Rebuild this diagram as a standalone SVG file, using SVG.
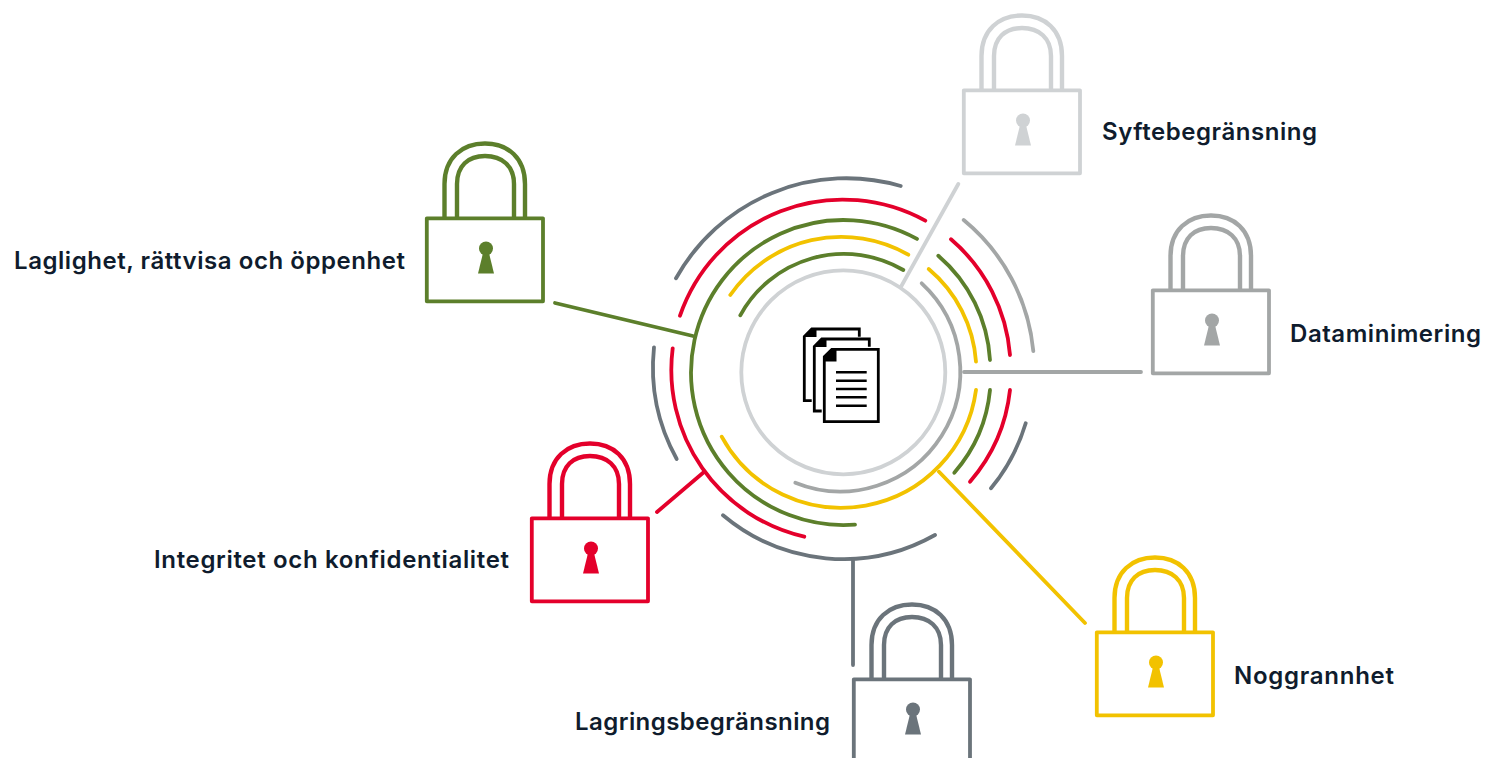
<svg xmlns="http://www.w3.org/2000/svg" width="1487" height="758" viewBox="0 0 1487 758">
<style>
.a{fill:none;stroke-width:3.8;stroke-linecap:round}
.c{fill:none;stroke-width:3.8;stroke-linecap:round}
.g{stroke:#5c7f2b;color:#5c7f2b}
.r{stroke:#e4002b;color:#e4002b}
.y{stroke:#f2c200;color:#f2c200}
.d{stroke:#6b747b;color:#6b747b}
.m{stroke:#a3a6a6;color:#a3a6a6}
.l{stroke:#cfd2d4;color:#cfd2d4}
.t{font-family:"Inter","Liberation Sans",sans-serif;font-weight:600;font-size:24px;fill:#0f1c2d;stroke:none}
.b{fill:none;stroke:currentColor;stroke-width:3.800;stroke-linejoin:round}
.s{fill:none;stroke:currentColor;stroke-width:4.400}
.k{fill:currentColor;stroke:none}
.p{fill:#fff;stroke:#000;stroke-width:2.8}
.f{fill:#000;stroke:none}
.n{stroke:#000;stroke-width:2.6;fill:none}
</style>
<defs>
<g id="lock">
<path class="s" d="M18.500 0V-34C18.500-60 36-74.500 59-74.500S99-60 99-34V0M31 0V-34C31-52 42-62 59-62S88-52 88-34V0"/>
<rect class="b" x="0.800" y="0.300" width="116.200" height="83"/>
<circle class="k" cx="60" cy="30.500" r="7"/>
<path class="k" d="M57.500 33H62.500L68 55.500H52Z"/>
</g>
</defs>
<g id="rings">
<circle class="a l" cx="843.300" cy="372.300" r="102"/>
<path class="a d" d="M676 278.300A195 195 0 0 1 900.700 186"/>
<path class="a r" d="M680 315.700A172 172 0 0 1 925.300 220.700"/>
<path class="a g" d="M917 238.900A152.500 152.500 0 1 0 855 524.600"/>
<path class="a y" d="M730.300 295A135 135 0 0 1 908.300 254.700"/>
<path class="a g" d="M740.300 315.300A118 118 0 0 1 903.300 270"/>
<path class="a m" d="M921.700 283.300A120 120 0 0 1 795.300 482.700"/>
<path class="a y" d="M928.700 269A133 133 0 0 1 976 361.700"/>
<path class="a g" d="M938.300 255.700A149 149 0 0 1 990 360"/>
<path class="a r" d="M951 239.300A170 170 0 0 1 1010 355"/>
<path class="a m" d="M963.700 220A193 193 0 0 1 1033.300 351"/>
<path class="a y" d="M976 390A136 136 0 0 1 721.700 436.700"/>
<path class="a g" d="M990 390A147 147 0 0 1 954.300 472.700"/>
<path class="a r" d="M1010 390A168 168 0 0 1 970 481.700"/>
<path class="a d" d="M1025.700 423.300A188 188 0 0 1 991 488.300"/>
<path class="a d" d="M654 347.300A190 190 0 0 0 676.700 459"/>
<path class="a r" d="M672.700 348.300A171 171 0 0 0 804.300 536.700"/>
<path class="a d" d="M723 515.300A187 187 0 0 0 935 535"/>
</g>
<g id="connectors">
<line class="c l" x1="958.300" y1="184" x2="901" y2="286.700"/>
<line class="c m" x1="964" y1="372" x2="1141" y2="372"/>
<line class="c g" x1="555" y1="303" x2="693" y2="336"/>
<line class="c r" x1="657" y1="512" x2="704" y2="472"/>
<line class="c y" x1="939" y1="471.700" x2="1085" y2="623"/>
<line class="c d" x1="853" y1="559" x2="853" y2="665"/>
</g>
<g id="documents">
<path class="p" d="M811.700 400.700H804.300V336.500L811.800 329H859.300V336.700"/>
<path class="f" d="M804.300 336.500L811.800 329H816.500V337H804.300Z"/>
<path class="p" d="M821.700 411H814.300V346.500L821.800 339H869.300V346.700"/>
<path class="f" d="M814.300 346.500L821.800 339H826.500V347H814.300Z"/>
<path class="p" d="M824.300 356.800L831.800 349.300H878.300V421.700H824.300Z"/>
<path class="f" d="M824.300 356.800L831.800 349.300H836.500V361.500H824.300Z"/>
<path class="n" d="M836 372.300H866.700M836 380.700H866.700M836 389H866.700M836 397.300H866.700M836 405.700H866.700"/>
</g>
<g id="node-laglighet"><use href="#lock" x="426" y="218" class="g"/><text class="t" x="14" y="269" textLength="391">Laglighet, rättvisa och öppenhet</text></g>
<g id="node-syfte"><use href="#lock" x="963" y="90" class="l"/><text class="t" x="1102" y="140" textLength="215">Syftebegränsning</text></g>
<g id="node-data"><use href="#lock" x="1152" y="290" class="m"/><text class="t" x="1290" y="342" textLength="191">Dataminimering</text></g>
<g id="node-integritet"><use href="#lock" x="531" y="518" class="r"/><text class="t" x="154" y="568" textLength="355">Integritet och konfidentialitet</text></g>
<g id="node-noggrannhet"><use href="#lock" x="1096" y="632" class="y"/><text class="t" x="1234" y="684" textLength="160">Noggrannhet</text></g>
<g id="node-lagring"><use href="#lock" x="853" y="679" class="d"/><text class="t" x="575" y="730" textLength="255">Lagringsbegränsning</text></g>
</svg>
